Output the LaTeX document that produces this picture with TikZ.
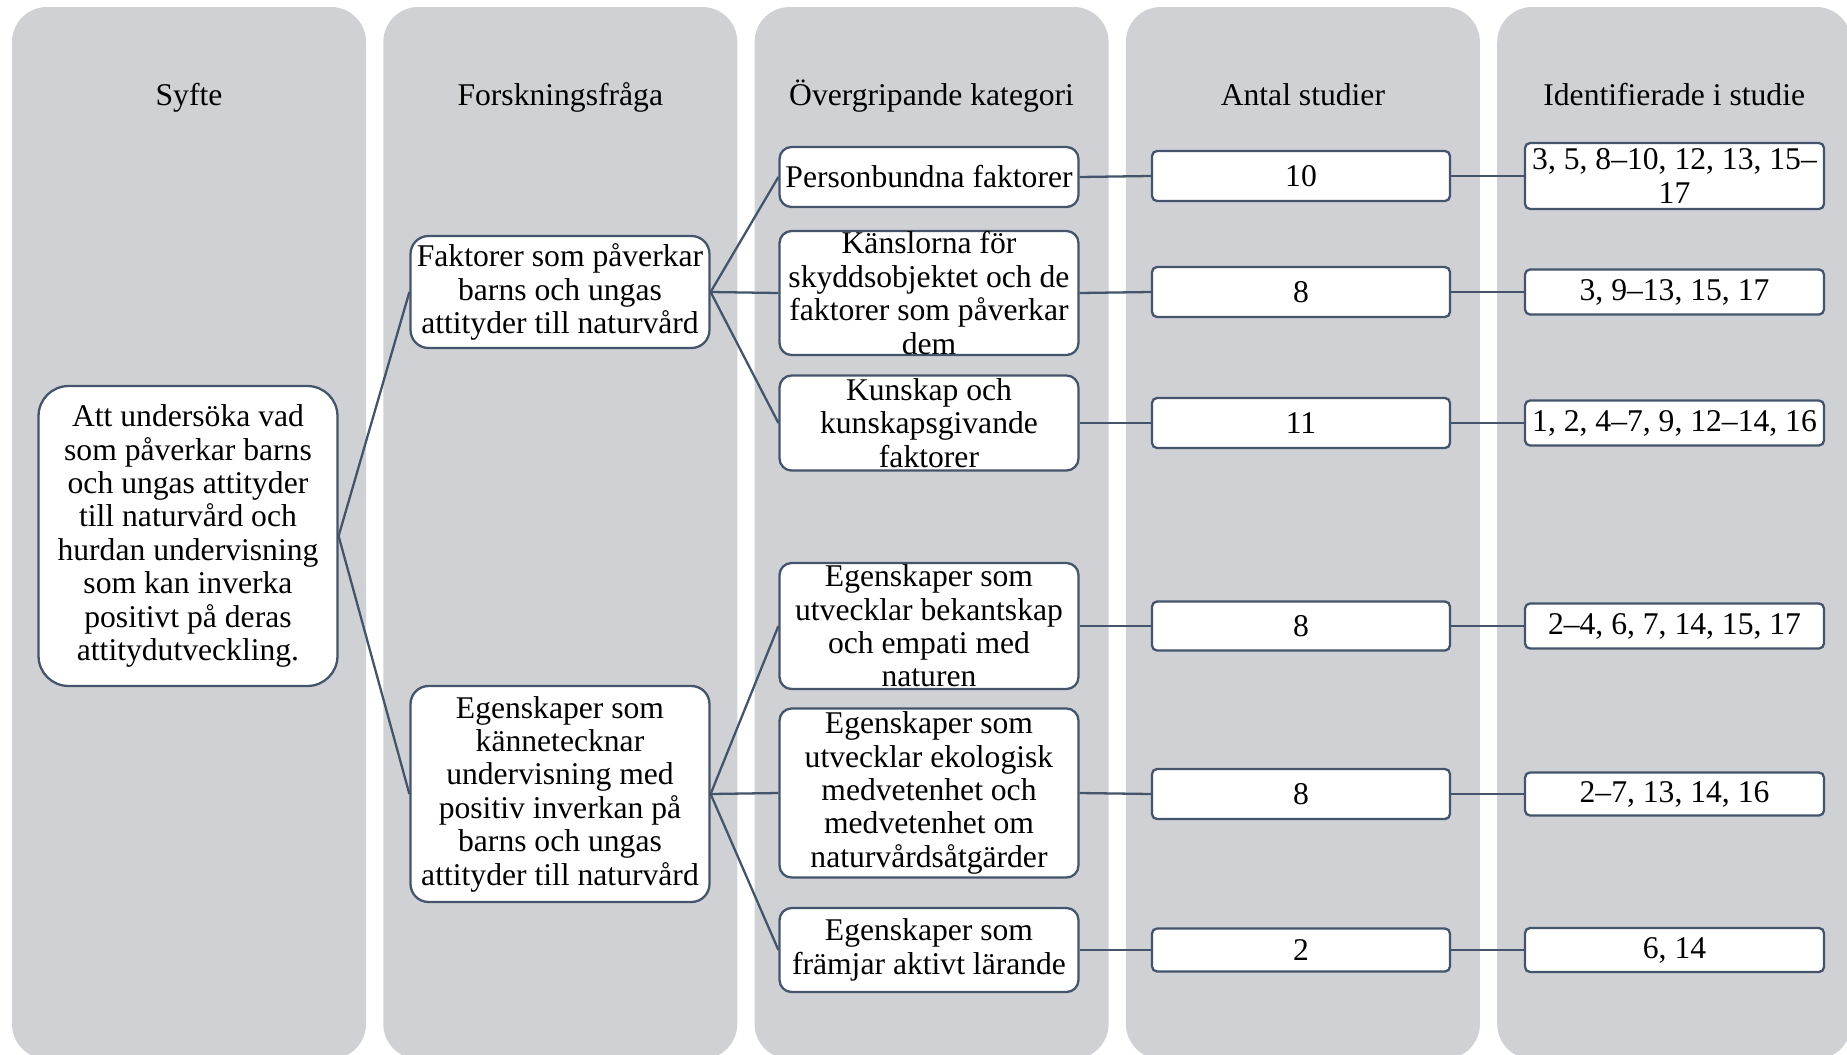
\documentclass[tikz,border=0pt]{standalone}
\usepackage{fontspec}
\setmainfont{Liberation Serif}
\usetikzlibrary{positioning}
\definecolor{colfill}{HTML}{D0D1D5}
\definecolor{slate}{HTML}{44546A}
\tikzset{
  basebox/.style={draw=slate, line width=1.3pt, fill=white, align=center,
    inner xsep=1pt, inner ysep=0pt, minimum width=5.98cm,
    font=\fontsize{18}{19}\selectfont},
  aimbox/.style={basebox, rounded corners=0.6cm},
  qbox/.style={basebox, rounded corners=0.36cm},
  catbox/.style={basebox, rounded corners=0.24cm},
  numbox/.style={basebox, rounded corners=0.1cm},
  head/.style={font=\fontsize{18}{19}\selectfont, text height=13pt, text depth=4pt},
  link/.style={draw=slate, line width=1.3pt}
}
\begin{document}
\begin{tikzpicture}[x=0.02cm, y=-0.02cm]
  \useasboundingbox (0,0) rectangle (1847,1055);
  \clip (0,0) rectangle (1847,1055);
  % columns with headings
  \foreach \i/\title in {0/Syfte, 1/Forskningsfråga, 2/Övergripande kategori,
      3/Antal studier, 4/Identifierade i studie} {
    \fill[colfill, rounded corners=0.7cm] ({12+371.3*\i},7) rectangle ++(354,1052);
    \node[head] (head\i) at ({189+371.3*\i},98) {\title};
  }
  % aim and research questions
  \node[aimbox, minimum height=6cm] (aim) at (188,536)
    {Att undersöka vad\\som påverkar barns\\och ungas attityder\\till naturvård och\\hurdan undervisning\\som kan inverka\\positivt på deras\\attitydutveckling.};
  \node[qbox, minimum height=2.24cm] (q1) at (560,292)
    {Faktorer som påverkar\\barns och ungas\\attityder till naturvård};
  \node[qbox, minimum height=4.32cm] (q2) at (560,794)
    {Egenskaper som\\kännetecknar\\undervisning med\\positiv inverkan på\\barns och ungas\\attityder till naturvård};
  % categories
  \node[catbox, minimum height=1.2cm] (cat1) at (929,177) {Personbundna faktorer};
  \node[catbox, minimum height=2.48cm] (cat2) at (929,293)
    {Känslorna för\\skyddsobjektet och de\\faktorer som påverkar\\dem};
  \node[catbox, minimum height=1.9cm] (cat3) at (929,423)
    {Kunskap och\\kunskapsgivande\\faktorer};
  \node[catbox, minimum height=2.52cm] (cat4) at (929,626)
    {Egenskaper som\\utvecklar bekantskap\\och empati med\\naturen};
  \node[catbox, minimum height=3.38cm] (cat5) at (929,793)
    {Egenskaper som\\utvecklar ekologisk\\medvetenhet och\\medvetenhet om\\naturvårdsåtgärder};
  \node[catbox, minimum height=1.68cm] (cat6) at (929,950)
    {Egenskaper som\\främjar aktivt lärande};
  \draw[link] (aim.east) -- (q1.west);
  \draw[link] (aim.east) -- (q2.west);
  \foreach \c in {1,2,3} \draw[link] (q1.east) -- (cat\c.west);
  \foreach \c in {4,5,6} \draw[link] (q2.east) -- (cat\c.west);
  % counts and studies
  \foreach \n/\y/\hn/\hs/\num/\ids in {
      1/176/1.0/1.32/10/{3, 5, 8–10, 12, 13, 15–\\17},
      2/292/1.0/0.9/8/{3, 9–13, 15, 17},
      3/423/1.0/0.9/11/{1, 2, 4–7, 9, 12–14, 16},
      4/626/0.98/0.9/8/{2–4, 6, 7, 14, 15, 17},
      5/794/1.0/0.86/8/{2–7, 13, 14, 16},
      6/950/0.86/0.88/2/{6, 14}} {
    \node[numbox, minimum width=5.96cm, minimum height=\hn cm] (num\n) at (1301,\y) {\num};
    \node[numbox, minimum height=\hs cm] (ids\n) at (1674.5,\y) {\ids};
    \draw[link] (cat\n.east) -- (num\n.west);
    \draw[link] (num\n.east) -- (ids\n.west);
  }
\end{tikzpicture}
\end{document}
